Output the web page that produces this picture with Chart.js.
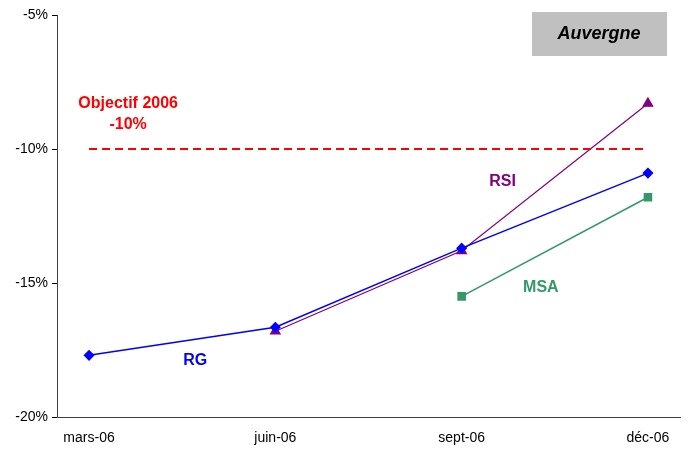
<!DOCTYPE html>
<html>
<head>
<meta charset="utf-8">
<script src="https://cdn.jsdelivr.net/npm/chart.js@4/dist/chart.umd.min.js"></script>
<style>
  body { margin: 0; background: #fff; }
  #wrap { width: 688px; height: 450px; }
</style>
</head>
<body>
<div id="wrap"><canvas id="chart" width="688" height="450"></canvas></div>
<script>
'use strict'

const months = ['mars-06', 'juin-06', 'sept-06', 'déc-06'];
const rgValues = [-17.7, -16.65, -13.7, -10.9];
const rsiValues = [null, -16.8, -13.8, -8.3];
const msaValues = [null, null, -15.5, -11.8];
const objectifValue = -10;
const yTickValues = [-20, -15, -10, -5];

const FONT = 'Arial, "Liberation Sans", sans-serif';

/** turns a list of values into {x, y} points, skipping the gaps */
function toPoints(values) {
  return values.map((v, i) => ({ x: i, y: v })).filter(p => p.y !== null);
}

/** free texts placed in data coordinates */
const labels = [
  { text: 'Objectif 2006', x: 0.21, y: -8.3, color: '#ff0000' },
  { text: '-10%', x: 0.21, y: -9.09, color: '#ff0000' },
  { text: 'RSI', x: 2.22, y: -11.23, color: '#800080' },
  { text: 'MSA', x: 2.425, y: -15.19, color: '#339966' },
  { text: 'RG', x: 0.57, y: -17.91, color: '#0000ff' }
];

const textPlugin = {
  id: 'texts',
  afterDatasetsDraw(chart) {
    const ctx = chart.ctx;
    const xs = chart.scales.x;
    const ys = chart.scales.y;
    ctx.save();
    ctx.font = 'bold 16px ' + FONT;
    ctx.textAlign = 'center';
    ctx.textBaseline = 'middle';
    labels.forEach(l => {
      ctx.fillStyle = l.color;
      ctx.fillText(l.text, xs.getPixelForValue(l.x), ys.getPixelForValue(l.y));
    });
    // region box
    ctx.fillStyle = '#c0c0c0';
    ctx.fillRect(532, 12, 135, 44);
    ctx.fillStyle = '#000';
    ctx.font = 'italic bold 18px ' + FONT;
    ctx.fillText('Auvergne', 599, 34);
    ctx.restore();
  }
};

const config = {
  type: 'scatter',
  data: {
    datasets: [
      {
        label: 'Objectif',
        data: [{ x: 0, y: objectifValue }, { x: months.length - 1, y: objectifValue }],
        showLine: true,
        borderColor: '#ff0000',
        borderWidth: 2,
        borderDash: [8, 5],
        pointRadius: 0
      },
      {
        label: 'RG',
        data: toPoints(rgValues),
        showLine: true,
        borderColor: '#0000ff',
        backgroundColor: '#0000ff',
        borderWidth: 1.5,
        pointStyle: 'rectRot',
        pointRadius: 4.5
      },
      {
        label: 'RSI',
        data: toPoints(rsiValues),
        showLine: true,
        borderColor: '#800080',
        backgroundColor: '#800080',
        borderWidth: 1.2,
        pointStyle: 'triangle',
        pointRadius: 5.5
      },
      {
        label: 'MSA',
        data: toPoints(msaValues),
        showLine: true,
        borderColor: '#339966',
        backgroundColor: '#339966',
        borderWidth: 1.5,
        pointStyle: 'rect',
        pointRadius: 5
      }
    ]
  },
  options: {
    responsive: false,
    animation: false,
    layout: { padding: { top: 15, right: 8, left: 0, bottom: 0 } },
    plugins: {
      legend: { display: false },
      tooltip: { enabled: false }
    },
    scales: {
      x: {
        type: 'linear',
        min: -0.172,
        max: 3.172,
        afterBuildTicks: scale => {
          scale.ticks = months.map((m, i) => ({ value: i }));
        },
        afterFit: scale => { scale.height = 33; },
        grid: { display: false },
        border: { display: true, color: '#404040', width: 1 },
        ticks: {
          color: '#000',
          font: { family: FONT, size: 14 },
          padding: 5,
          maxRotation: 0,
          callback: v => months[v]
        }
      },
      y: {
        min: -20,
        max: -5,
        afterBuildTicks: scale => {
          scale.ticks = yTickValues.map(v => ({ value: v }));
        },
        afterFit: scale => { scale.width = 57; },
        grid: {
          drawOnChartArea: false,
          drawTicks: true,
          tickLength: 5,
          color: '#000'
        },
        border: { display: true, color: '#404040', width: 1 },
        ticks: {
          color: '#000',
          font: { family: FONT, size: 14 },
          padding: 4,
          callback: v => v + '%'
        }
      }
    }
  },
  plugins: [textPlugin]
};

new Chart(document.getElementById('chart').getContext('2d'), config);
</script>
</body>
</html>
